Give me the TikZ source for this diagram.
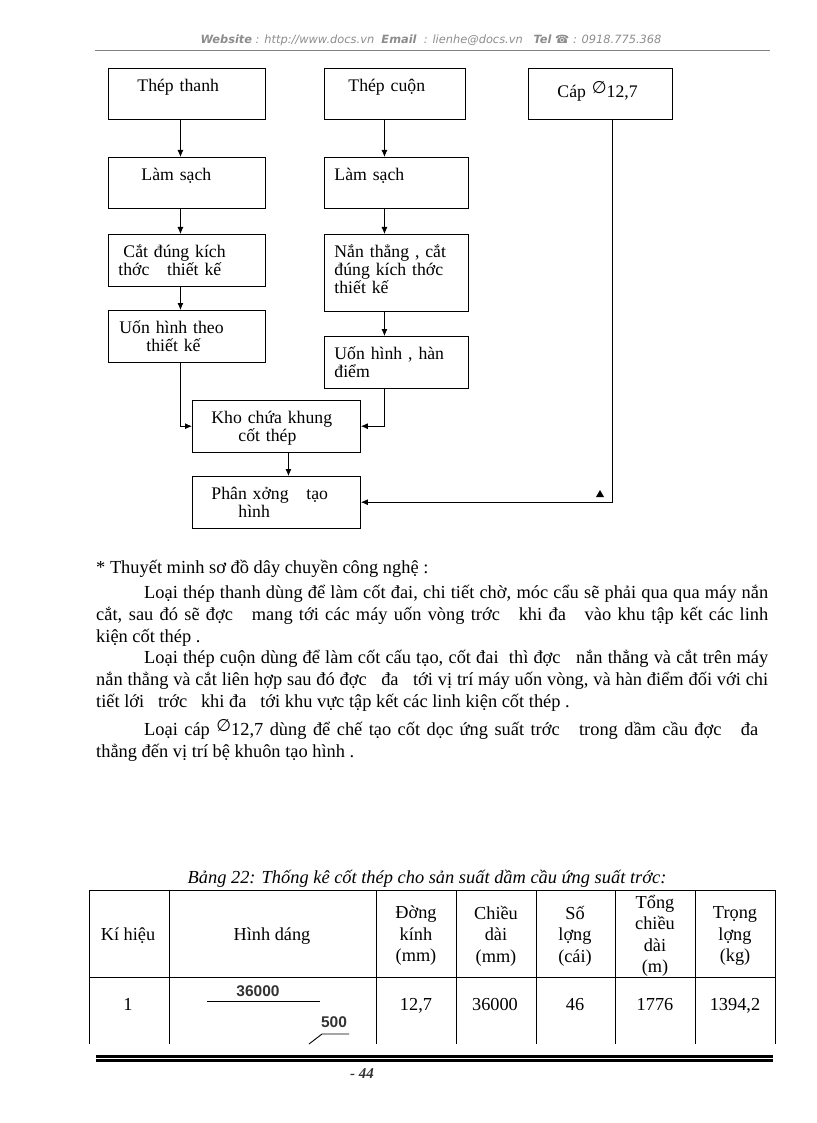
\documentclass[tikz,border=0pt]{standalone}
\usepackage{fontspec}
\usetikzlibrary{arrows.meta}
\setmainfont{Liberation Serif}
\newfontfamily\symfont{DejaVu Sans}
\newfontfamily\headfont{DejaVu Sans}
\newfontfamily\drawfont{Liberation Sans}
\newcommand{\dia}{\raisebox{4pt}{\symfont\fontsize{17}{17}\selectfont ∅}}
\newcommand{\spread}[2]{\makebox[#1pt][s]{#2}}
\begin{document}
\begin{tikzpicture}[
    x=1pt, y=-1pt,
    cell/.style={rectangle, draw, anchor=north west, inner sep=0pt, line width=0.9pt, align=left, font=\fontsize{17.7}{18}\selectfont, text width=#1, text height=23pt, text depth=28.5pt},
    tallcell/.style={cell=#1, text depth=54pt},
    arrow/.style={line width=0.8pt,->,>={Latex[length=7pt,width=6pt]}},
    para/.style={anchor=base west, inner sep=0pt, font=\fontsize{18.4}{20}\selectfont},
    head/.style={anchor=center, inner sep=0pt, align=center, font=\fontsize{18.3}{21.5}\selectfont},
    val/.style={anchor=base, inner sep=0pt, font=\fontsize{18.3}{21.5}\selectfont},
    shapetxt/.style={anchor=center, inner sep=0pt, font=\drawfont\bfseries\fontsize{15.5}{15.5}\selectfont, text=black!80}
]
    \useasboundingbox (0,0) rectangle (816,1123);

    % Header
    \node (top) [anchor=center, inner sep=0pt, text=black!45, font=\headfont\itshape\fontsize{11.4}{14}\selectfont] at (431,40) {\textbf{Website} : http://www.docs.vn~~\textbf{Email}~~: lienhe@docs.vn~~~\textbf{Tel} ☎ : 0918.775.368};
    \draw [black!50, line width=1pt] (95,50.5) -- (770,50.5);

    % Flow boxes
    \node (thanh) [cell=157pt] at (108,68) {\hspace*{29pt}Thép thanh};
    \node (clean1) [cell=157pt] at (108,157) {\hspace*{33pt}Làm sạch};
    \node (cut1) [cell=157pt] at (108,234) {\hspace*{15pt}Cắt đúng kích\\\hspace*{10pt}thớc~~ thiết kế};
    \node (bend1) [cell=157pt] at (108,310) {\hspace*{11pt}Uốn hình theo\\\hspace*{38pt}thiết kế};
    \node (cuon) [cell=141pt] at (324,68) {\hspace*{24pt}Thép cuộn};
    \node (clean2) [cell=144pt] at (324,157) {\hspace*{10pt}Làm sạch};
    \node (cut2) [tallcell=144pt] at (324,234) {\hspace*{10pt}Nắn thẳng , cắt\\\hspace*{10pt}đúng kích thớc\\\hspace*{10pt}thiết kế};
    \node (bend2) [cell=144pt] at (324,336) {\hspace*{10pt}Uốn hình , hàn\\\hspace*{10pt}điểm};
    \node (cap) [cell=144pt, text height=29pt, text depth=22.5pt] at (528,68) {\hspace*{29pt}Cáp \dia12,7};
    \node (kho) [cell=168pt] at (192,400) {\hspace*{19pt}Kho chứa khung\\\hspace*{46pt}cốt thép};
    \node (shop) [cell=168pt] at (192,476) {\hspace*{19pt}Phân xởng~~ tạo\\\hspace*{46pt}hình};

    % Flow
    \draw [arrow] ([xshift=-6.5pt]thanh.south) -- ([xshift=-6.5pt]clean1.north);
    \draw [arrow] ([xshift=-6.5pt]clean1.south) -- ([xshift=-6.5pt]cut1.north);
    \draw [arrow] ([xshift=-6.5pt]cut1.south) -- ([xshift=-6.5pt]bend1.north);
    \draw [arrow] ([xshift=-6.5pt]bend1.south) |- (kho.west);
    \draw [arrow] ([xshift=-10.5pt]cuon.south) -- ([xshift=-12pt]clean2.north);
    \draw [arrow] ([xshift=-12pt]clean2.south) -- ([xshift=-12pt]cut2.north);
    \draw [arrow] ([xshift=-12pt]cut2.south) -- ([xshift=-12pt]bend2.north);
    \draw [arrow] ([xshift=-12pt]bend2.south) |- (kho.east);
    \draw [arrow] ([xshift=12pt]kho.south) -- ([xshift=12pt]shop.north);
    \draw [arrow] ([xshift=12pt]cap.south) |- (shop.east);
    \fill (596,497) -- (604,497) -- (600,490) -- cycle;

    % Notes
    \node (n0) [para] at (96,573) {* Thuyết minh sơ đồ dây chuyền công nghệ :};
    \node (n1) [para] at (144,598) {\spread{624}{Loại thép thanh dùng để làm cốt đai, chi tiết chờ, móc cẩu sẽ phải qua qua máy nắn}};
    \node (n2) [para] at (96,620) {\spread{672}{cắt, sau đó sẽ đợc~~ mang tới các máy uốn vòng trớc~~ khi đa~~ vào khu tập kết các linh}};
    \node (n3) [para] at (96,642) {kiện cốt thép .};
    \node (n4) [para] at (144,663) {\spread{624}{Loại thép cuộn dùng để làm cốt cấu tạo, cốt đai~ thì đợc~~ nắn thẳng và cắt trên máy}};
    \node (n5) [para] at (96,685) {\spread{672}{nắn thẳng và cắt liên hợp sau đó đợc~~ đa~~ tới vị trí máy uốn vòng, và hàn điểm đối với chi}};
    \node (n6) [para] at (96,707) {tiết lới~~ trớc~~ khi đa~~ tới khu vực tập kết các linh kiện cốt thép .};
    \node (n7) [para] at (144,735) {\spread{614}{Loại cáp \dia12,7 dùng để chế tạo cốt dọc ứng suất trớc~~ trong dầm cầu đợc~~ đa}};
    \node (n8) [para] at (96,757) {thẳng đến vị trí bệ khuôn tạo hình .};

    % Table
    \node (title) [anchor=center, inner sep=0pt, font=\itshape\fontsize{18.4}{20}\selectfont] at (427,879) {Bảng 22: Thống kê cốt thép cho sản suất dầm cầu ứng suất trớc:};
    \draw [line width=0.9pt] (89,890.5) -- (775,890.5);
    \draw [line width=0.9pt] (89,977.5) -- (775,977.5);
    \draw [line width=0.9pt] (89,890) -- (89,1044) (169,890) -- (169,1044) (376,890) -- (376,1044) (456,890) -- (456,1044) (536,890) -- (536,1044) (615,890) -- (615,1044) (695,890) -- (695,1044) (775,890) -- (775,1044);

    \node (h1) [head] at (128,936) {Kí hiệu};
    \node (h2) [head] at (272,936) {Hình dáng};
    \node (h3) [head] at (416,936) {Đờng\\kính\\(mm)};
    \node (h4) [head] at (496,936) {Chiều\\dài\\(mm)};
    \node (h5) [head] at (575,936) {Số\\lợng\\(cái)};
    \node (h6) [head] at (655,936) {Tổng\\chiều\\dài\\(m)};
    \node (h7) [head] at (735,936) {Trọng\\lợng\\(kg)};

    \node (r1) [val] at (128,1010) {1};
    \node (r3) [val] at (416,1010) {12,7};
    \node (r4) [val] at (495,1010) {36000};
    \node (r5) [val] at (575,1010) {46};
    \node (r6) [val] at (655,1010) {1776};
    \node (r7) [val] at (735,1010) {1394,2};

    % Bar shape
    \node (len1) [shapetxt] at (258,991) {36000};
    \node (len2) [shapetxt] at (334,1022) {500};
    \coordinate (a) at (207,1001);
    \coordinate (b) at (320,1001);
    \coordinate (c) at (349,1034);
    \coordinate (d) at (322,1034);
    \coordinate (e) at (309,1044);
    \draw [line width=0.9pt] (a) -- (b);
    \draw [line width=0.9pt] (c) -- (d) -- (e);

    % Footer
    \draw [line width=2.8pt] (96,1056.5) -- (773,1056.5);
    \draw [line width=2.8pt] (96,1060.5) -- (773,1060.5);
    \node (page) [anchor=center, inner sep=0pt, font=\bfseries\itshape\fontsize{15}{15}\selectfont, text=black!80] at (362,1074) {- 44};
\end{tikzpicture}
\end{document}
